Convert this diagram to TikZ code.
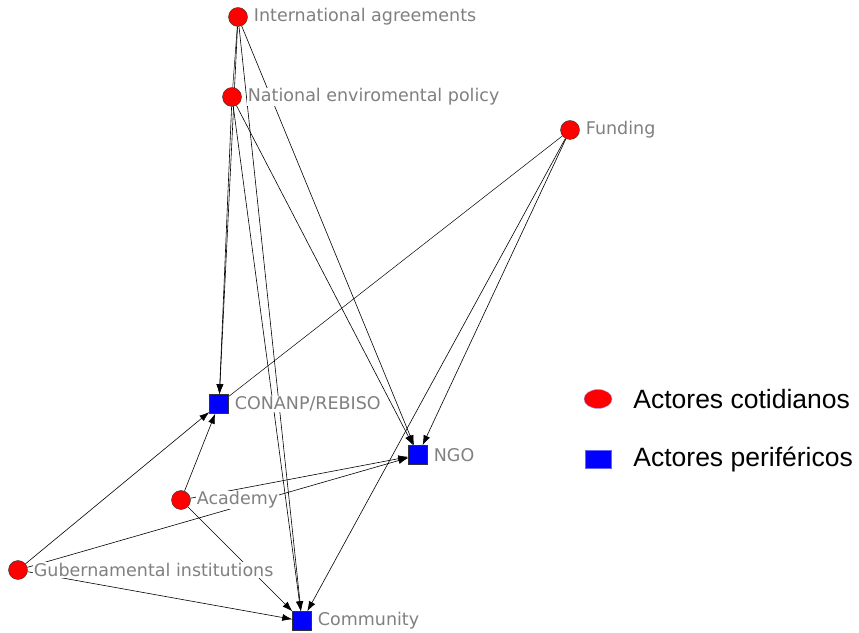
\documentclass[tikz,border=0pt]{standalone}
\usepackage{fontspec}
\setmainfont{DejaVu Sans}
\newfontfamily\legendfont{Liberation Sans}
\usetikzlibrary{arrows.meta,backgrounds,positioning,shapes.geometric}
\tikzset{
    actor/.style={circle,draw=black!80,fill=red,minimum size=19pt,inner sep=0pt},
    outer/.style={rectangle,draw=black!80,fill=blue,minimum size=19pt,inner sep=0pt},
    lbl/.style={text=black!50,fill=white,inner sep=1pt,font=\fontsize{17.5}{17.5}\selectfont},
    tie/.style={-{Latex[length=10pt,width=7pt]},line width=0.6pt},
    plain/.style={line width=0.5pt},
    keytext/.style={font=\legendfont\fontsize{26.5}{26.5}\selectfont,inner sep=0pt}
}
\begin{document}
\begin{tikzpicture}[x=1pt,y=1pt]
    \useasboundingbox (0,0) rectangle (859,632);
    % actors
    \node[actor] (ia) at (238,615) {};
    \node[actor] (nep) at (232,535) {};
    \node[actor] (fund) at (570,502) {};
    \node[outer] (conanp) at (219,228) {};
    \node[outer] (ngo) at (418,177) {};
    \node[actor] (acad) at (181,132) {};
    \node[actor] (gub) at (18,62) {};
    \node[outer] (comm) at (302,11) {};
    % labels
    \node[lbl, right=5pt of ia] (ia-l) {International agreements};
    \node[lbl, right=5pt of nep] (nep-l) {National enviromental policy};
    \node[lbl, right=5pt of fund] (fund-l) {Funding};
    \node[lbl, right=5pt of conanp] (conanp-l) {CONANP/REBISO};
    \node[lbl, right=5pt of ngo] (ngo-l) {NGO};
    \node[lbl, right=5pt of acad] (acad-l) {Academy};
    \node[lbl, right=5pt of gub] (gub-l) {Gubernamental institutions};
    \node[lbl, right=5pt of comm] (comm-l) {Community};
    % ties
    \begin{scope}[on background layer]
        \draw[plain] (ia) -- (nep);
        \draw[tie] (ia) -- (conanp);
        \draw[tie] (ia) -- (comm);
        \draw[tie] (ia) -- (ngo);
        \draw[tie] (nep) -- (conanp);
        \draw[tie] (nep) -- (comm);
        \draw[tie] (nep) -- (ngo);
        \draw[plain] (fund) -- (conanp);
        \draw[tie] (fund) -- (ngo);
        \draw[tie] (fund) -- (comm);
        \draw[tie] (acad) -- (conanp);
        \draw[tie] (acad) -- (ngo);
        \draw[tie] (acad) -- (comm);
        \draw[tie] (gub) -- (conanp);
        \draw[tie] (gub) -- (ngo);
        \draw[tie] (gub) -- (comm);
    \end{scope}
    % legend
    \node[ellipse,draw=blue!40,fill=red,minimum width=28pt,minimum height=19pt,inner sep=0pt] (key1) at (598,233) {};
    \node[rectangle,draw=blue!60,fill=blue,minimum width=26pt,minimum height=18pt,inner sep=0pt] (key2) at (598,173) {};
    \node[keytext, right=21pt of key1] (key1-l) {Actores cotidianos};
    \node[keytext, right=22pt of key2] (key2-l) {Actores periféricos};
\end{tikzpicture}
\end{document}
